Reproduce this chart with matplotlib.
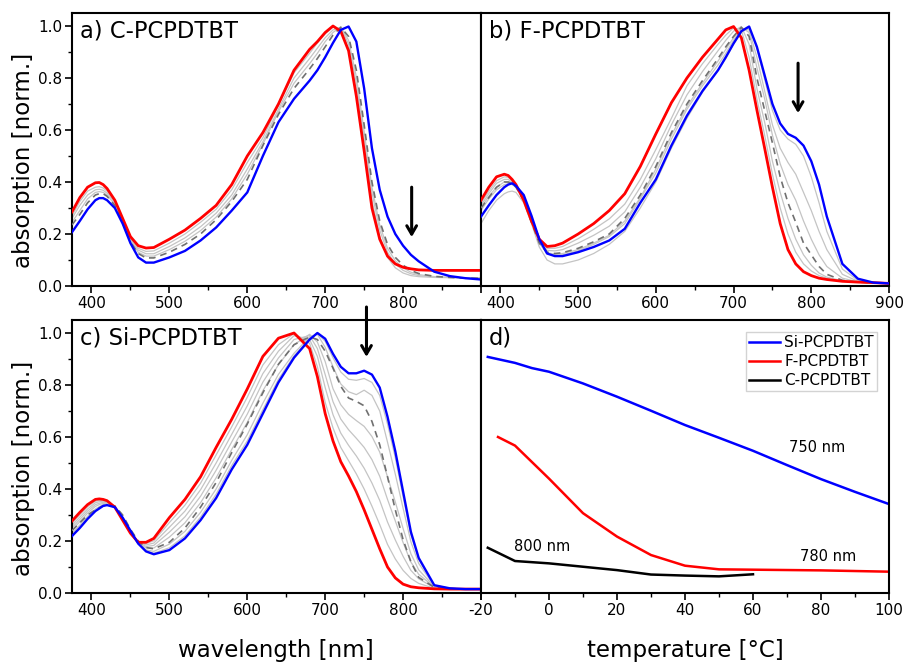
import matplotlib
matplotlib.use("Agg")
import matplotlib.pyplot as plt
from matplotlib.ticker import MultipleLocator

plt.rcParams['font.family'] = ['DejaVu Sans']
plt.rcParams['axes.unicode_minus'] = False

# ---------------- data ----------------
wl = [375, 385, 395, 405, 410, 415, 420, 430, 440, 450, 460, 470, 480, 500, 520, 540, 560,
      580, 600, 620, 640, 660, 680, 690, 700, 710, 720, 730, 740, 750, 760, 770, 780, 790,
      800, 810, 820, 840, 860, 880, 900]

# a) C-PCPDTBT
a_red = [0.285, 0.34, 0.38, 0.397, 0.398, 0.39, 0.375, 0.33, 0.26, 0.19, 0.155, 0.146, 0.148,
         0.18, 0.215, 0.26, 0.31, 0.39, 0.50, 0.59, 0.70, 0.83, 0.91, 0.94, 0.975, 1.0, 0.98,
         0.905, 0.73, 0.52, 0.30, 0.18, 0.115, 0.085, 0.072, 0.066, 0.062, 0.06, 0.06, 0.06, 0.06]
a_blue = [0.207, 0.25, 0.295, 0.33, 0.338, 0.338, 0.33, 0.30, 0.24, 0.165, 0.11, 0.09, 0.09,
          0.11, 0.135, 0.175, 0.225, 0.29, 0.36, 0.50, 0.63, 0.72, 0.79, 0.83, 0.88, 0.935, 0.985,
          0.998, 0.94, 0.76, 0.53, 0.37, 0.267, 0.20, 0.155, 0.12, 0.095, 0.055, 0.038, 0.03, 0.025]
a_dash = [0.235, 0.275, 0.32, 0.35, 0.355, 0.355, 0.345, 0.31, 0.245, 0.17, 0.125, 0.108, 0.108,
          0.13, 0.16, 0.20, 0.255, 0.325, 0.41, 0.54, 0.66, 0.76, 0.835, 0.875, 0.92, 0.965, 0.995,
          0.96, 0.83, 0.62, 0.40, 0.25, 0.16, 0.11, 0.08, 0.06, 0.048, 0.037, 0.033, 0.03, 0.03]
a_grey1 = [0.27, 0.325, 0.365, 0.38, 0.382, 0.377, 0.365, 0.325, 0.255, 0.185, 0.145, 0.133, 0.135,
           0.165, 0.20, 0.245, 0.295, 0.37, 0.475, 0.57, 0.695, 0.82, 0.895, 0.935, 0.97, 0.995, 0.99,
           0.91, 0.75, 0.54, 0.33, 0.19, 0.11, 0.07, 0.05, 0.04, 0.036, 0.033, 0.032, 0.032, 0.032]
a_grey2 = [0.26, 0.31, 0.35, 0.37, 0.372, 0.368, 0.357, 0.32, 0.25, 0.18, 0.138, 0.124, 0.124,
           0.152, 0.185, 0.228, 0.28, 0.35, 0.45, 0.555, 0.68, 0.80, 0.875, 0.915, 0.955, 0.985, 0.995,
           0.93, 0.78, 0.57, 0.36, 0.215, 0.13, 0.085, 0.06, 0.047, 0.04, 0.035, 0.033, 0.032, 0.032]
a_grey3 = [0.245, 0.29, 0.335, 0.36, 0.363, 0.36, 0.35, 0.313, 0.247, 0.175, 0.13, 0.115, 0.115,
           0.14, 0.172, 0.213, 0.265, 0.335, 0.43, 0.545, 0.67, 0.78, 0.855, 0.895, 0.94, 0.975, 0.997,
           0.945, 0.805, 0.595, 0.38, 0.235, 0.145, 0.097, 0.07, 0.053, 0.044, 0.036, 0.033, 0.032, 0.032]

# b) F-PCPDTBT
b_red = [0.33, 0.38, 0.42, 0.43, 0.425, 0.41, 0.39, 0.33, 0.25, 0.18, 0.152, 0.155, 0.165,
         0.20, 0.24, 0.29, 0.355, 0.46, 0.585, 0.705, 0.80, 0.88, 0.95, 0.985, 0.998, 0.955, 0.83,
         0.677, 0.53, 0.38, 0.24, 0.14, 0.085, 0.055, 0.04, 0.03, 0.025, 0.018, 0.015, 0.013, 0.01]
b_blue = [0.267, 0.31, 0.35, 0.38, 0.39, 0.395, 0.385, 0.35, 0.27, 0.18, 0.125, 0.115, 0.115,
          0.13, 0.15, 0.175, 0.22, 0.32, 0.41, 0.54, 0.655, 0.75, 0.83, 0.88, 0.933, 0.98, 0.998,
          0.92, 0.81, 0.70, 0.625, 0.585, 0.57, 0.54, 0.48, 0.39, 0.267, 0.085, 0.028, 0.013, 0.01]
b_dash = [0.30, 0.34, 0.38, 0.40, 0.40, 0.395, 0.38, 0.33, 0.245, 0.165, 0.13, 0.125, 0.128,
          0.145, 0.17, 0.20, 0.26, 0.35, 0.46, 0.59, 0.70, 0.79, 0.875, 0.92, 0.96, 0.995, 0.96,
          0.80, 0.675, 0.55, 0.42, 0.32, 0.245, 0.165, 0.12, 0.075, 0.045, 0.022, 0.015, 0.012, 0.01]
b_grey1 = [0.24, 0.29, 0.33, 0.355, 0.362, 0.365, 0.36, 0.32, 0.24, 0.15, 0.10, 0.085, 0.085,
           0.10, 0.125, 0.16, 0.21, 0.30, 0.40, 0.53, 0.645, 0.745, 0.83, 0.875, 0.93, 0.975, 0.995,
           0.915, 0.795, 0.675, 0.60, 0.565, 0.545, 0.50, 0.42, 0.32, 0.21, 0.065, 0.022, 0.012, 0.01]
b_grey2 = [0.29, 0.335, 0.37, 0.39, 0.393, 0.39, 0.38, 0.33, 0.245, 0.165, 0.125, 0.118, 0.12,
           0.135, 0.16, 0.19, 0.24, 0.335, 0.435, 0.565, 0.68, 0.77, 0.85, 0.895, 0.945, 0.99, 0.985,
           0.88, 0.75, 0.62, 0.53, 0.475, 0.43, 0.36, 0.29, 0.21, 0.14, 0.045, 0.018, 0.012, 0.01]
b_grey3 = [0.30, 0.345, 0.38, 0.40, 0.40, 0.395, 0.382, 0.33, 0.245, 0.165, 0.128, 0.122, 0.125,
           0.14, 0.165, 0.195, 0.25, 0.34, 0.45, 0.58, 0.69, 0.78, 0.865, 0.91, 0.955, 0.995, 0.975,
           0.84, 0.72, 0.58, 0.47, 0.39, 0.33, 0.25, 0.18, 0.12, 0.075, 0.03, 0.016, 0.012, 0.01]
b_grey4 = [0.31, 0.355, 0.395, 0.41, 0.41, 0.40, 0.385, 0.33, 0.248, 0.17, 0.137, 0.135, 0.14,
           0.165, 0.195, 0.23, 0.285, 0.38, 0.49, 0.62, 0.735, 0.825, 0.905, 0.945, 0.98, 0.998, 0.93,
           0.76, 0.63, 0.48, 0.36, 0.26, 0.18, 0.12, 0.08, 0.05, 0.034, 0.02, 0.015, 0.012, 0.01]
b_grey5 = [0.32, 0.365, 0.405, 0.42, 0.418, 0.405, 0.388, 0.33, 0.25, 0.175, 0.145, 0.145, 0.152,
           0.182, 0.218, 0.258, 0.315, 0.41, 0.525, 0.645, 0.77, 0.855, 0.93, 0.965, 0.993, 0.985, 0.88,
           0.72, 0.58, 0.43, 0.30, 0.20, 0.13, 0.085, 0.058, 0.04, 0.03, 0.019, 0.015, 0.012, 0.01]

# c) Si-PCPDTBT
c_red = [0.277, 0.31, 0.34, 0.36, 0.362, 0.36, 0.355, 0.33, 0.28, 0.23, 0.195, 0.195, 0.21,
         0.29, 0.36, 0.447, 0.56, 0.668, 0.785, 0.91, 0.98, 1.0, 0.94, 0.832, 0.69, 0.585, 0.505,
         0.45, 0.39, 0.32, 0.245, 0.17, 0.10, 0.058, 0.034, 0.024, 0.02, 0.016, 0.015, 0.015, 0.015]
c_blue = [0.219, 0.25, 0.285, 0.315, 0.325, 0.335, 0.338, 0.33, 0.29, 0.24, 0.19, 0.16, 0.149,
          0.165, 0.21, 0.28, 0.365, 0.475, 0.57, 0.69, 0.81, 0.905, 0.975, 1.0, 0.978, 0.92, 0.87,
          0.845, 0.845, 0.855, 0.84, 0.79, 0.678, 0.545, 0.39, 0.235, 0.135, 0.03, 0.018, 0.015, 0.015]
c_dash = [0.24, 0.27, 0.30, 0.32, 0.328, 0.335, 0.34, 0.335, 0.30, 0.245, 0.20, 0.175, 0.17,
          0.195, 0.25, 0.33, 0.425, 0.54, 0.65, 0.77, 0.88, 0.955, 0.985, 0.975, 0.93, 0.865, 0.795,
          0.75, 0.737, 0.72, 0.66, 0.57, 0.447, 0.32, 0.205, 0.12, 0.06, 0.022, 0.017, 0.015, 0.015]
c_grey1 = [0.268, 0.301, 0.332, 0.353, 0.356, 0.356, 0.352, 0.33, 0.282, 0.232, 0.194, 0.19, 0.201,
           0.271, 0.338, 0.422, 0.531, 0.639, 0.753, 0.877, 0.955, 0.998, 0.96, 0.87, 0.733, 0.635, 0.56,
           0.509, 0.458, 0.40, 0.334, 0.263, 0.187, 0.131, 0.087, 0.056, 0.037, 0.018, 0.015, 0.015, 0.015]
c_grey2 = [0.26, 0.292, 0.323, 0.347, 0.351, 0.353, 0.35, 0.33, 0.283, 0.233, 0.193, 0.185, 0.192,
           0.253, 0.315, 0.397, 0.50, 0.61, 0.72, 0.844, 0.93, 0.99, 0.975, 0.91, 0.79, 0.686, 0.615,
           0.568, 0.527, 0.48, 0.423, 0.356, 0.273, 0.204, 0.141, 0.087, 0.055, 0.02, 0.016, 0.015, 0.015]
c_grey3 = [0.251, 0.283, 0.315, 0.34, 0.345, 0.349, 0.347, 0.33, 0.285, 0.235, 0.193, 0.179, 0.183,
           0.234, 0.293, 0.372, 0.472, 0.581, 0.688, 0.811, 0.904, 0.975, 0.99, 0.94, 0.84, 0.736, 0.669,
           0.628, 0.595, 0.56, 0.513, 0.449, 0.36, 0.277, 0.194, 0.119, 0.072, 0.023, 0.016, 0.015, 0.015]
c_grey4 = [0.242, 0.274, 0.307, 0.333, 0.34, 0.345, 0.345, 0.33, 0.286, 0.236, 0.192, 0.174, 0.173,
           0.215, 0.27, 0.347, 0.443, 0.552, 0.656, 0.778, 0.878, 0.955, 0.995, 0.965, 0.89, 0.786, 0.724,
           0.687, 0.663, 0.641, 0.602, 0.542, 0.447, 0.35, 0.248, 0.151, 0.089, 0.025, 0.017, 0.015, 0.015]
c_grey5 = [0.229, 0.261, 0.295, 0.323, 0.332, 0.34, 0.341, 0.33, 0.288, 0.238, 0.191, 0.166, 0.16,
           0.188, 0.237, 0.31, 0.40, 0.51, 0.609, 0.73, 0.841, 0.922, 0.985, 0.995, 0.945, 0.87, 0.804,
           0.774, 0.763, 0.78, 0.76, 0.70, 0.58, 0.457, 0.326, 0.197, 0.114, 0.027, 0.018, 0.015, 0.015]
c_grey6 = [0.223, 0.254, 0.289, 0.318, 0.328, 0.337, 0.339, 0.33, 0.289, 0.239, 0.19, 0.162, 0.153,
           0.174, 0.22, 0.292, 0.38, 0.49, 0.585, 0.705, 0.822, 0.912, 0.978, 0.998, 0.968, 0.905, 0.85,
           0.822, 0.818, 0.825, 0.81, 0.76, 0.65, 0.52, 0.37, 0.225, 0.13, 0.03, 0.018, 0.015, 0.015]

# d) temperature dependence
t_si = [-18, -10, -5, 0, 10, 20, 30, 40, 50, 60, 70, 80, 90, 100]
v_si = [0.908, 0.885, 0.865, 0.851, 0.806, 0.755, 0.701, 0.646, 0.597, 0.547, 0.492, 0.438, 0.389, 0.342]
t_f = [-15, -10, 0, 10, 20, 30, 40, 50, 80, 100]
v_f = [0.60, 0.567, 0.44, 0.307, 0.217, 0.146, 0.105, 0.091, 0.087, 0.082]
t_c = [-18, -10, 0, 10, 20, 30, 40, 50, 60]
v_c = [0.174, 0.123, 0.114, 0.101, 0.088, 0.071, 0.067, 0.064, 0.072]

panel_titles = ["a) C-PCPDTBT", "b) F-PCPDTBT", "c) Si-PCPDTBT", "d)"]
legend_labels = ["Si-PCPDTBT", "F-PCPDTBT", "C-PCPDTBT"]
wl_ticks = [400, 500, 600, 700, 800, 900]
y_ticks = [0.0, 0.2, 0.4, 0.6, 0.8, 1.0]
t_ticks = [-20, 0, 20, 40, 60, 80, 100]
arrows = {"a": (811, 0.38, 0.188), "b": (783, 0.857, 0.665), "c": (753, 1.10, 0.908)}

# ---------------- figure ----------------
fig = plt.figure(figsize=(9.07, 6.64), dpi=100)
W, H = 907, 664
def box(l, t, r, b):
    return [l / W, 1 - b / H, (r - l) / W, (b - t) / H]

ax_a = fig.add_axes(box(72, 13, 481, 286))
ax_b = fig.add_axes(box(481, 13, 889, 286))
ax_c = fig.add_axes(box(72, 320, 481, 593))
ax_d = fig.add_axes(box(481, 320, 889, 593))

RED = '#ff0000'
BLUE = '#0000ff'
GREY = '#c4c4c4'
DGREY = '#707070'

def spectra(ax, greys, dash, red, blue):
    for g in greys:
        ax.plot(wl, g, color=GREY, lw=0.9, zorder=2)
    ax.plot(wl, dash, color=DGREY, lw=1.2, ls=(0, (4, 3)), zorder=3)
    ax.plot(wl, red, color=RED, lw=2.0, zorder=4)
    ax.plot(wl, blue, color=BLUE, lw=1.7, zorder=5)

spectra(ax_a, [a_grey1, a_grey2, a_grey3], a_dash, a_red, a_blue)
spectra(ax_b, [b_grey1, b_grey2, b_grey3, b_grey4, b_grey5], b_dash, b_red, b_blue)
spectra(ax_c, [c_grey1, c_grey2, c_grey3, c_grey4, c_grey5, c_grey6], c_dash, c_red, c_blue)

for ax in (ax_a, ax_b, ax_c, ax_d):
    for s in ax.spines.values():
        s.set_linewidth(1.5)
    ax.tick_params(which='major', direction='out', length=5, width=1.2, labelsize=11, pad=2)
    ax.tick_params(which='minor', direction='out', length=3, width=1.0)
    ax.set_ylim(0, 1.05)

for ax in (ax_a, ax_b, ax_c):
    ax.set_xlim(375, 900)
    ax.set_xticks(wl_ticks)
    ax.xaxis.set_minor_locator(MultipleLocator(50))

for ax in (ax_a, ax_c):
    ax.set_xticklabels([str(t) for t in wl_ticks[:-1]] + [''])
    ax.set_yticks(y_ticks)
    ax.set_yticklabels(['%.1f' % v for v in y_ticks])
    ax.yaxis.set_minor_locator(MultipleLocator(0.1))

for ax in (ax_b, ax_d):
    ax.set_yticks([])

# panel d
ax_d.plot(t_si, v_si, color=BLUE, lw=1.8, label=legend_labels[0])
ax_d.plot(t_f, v_f, color=RED, lw=1.8, label=legend_labels[1])
ax_d.plot(t_c, v_c, color='black', lw=1.8, label=legend_labels[2])
ax_d.set_xlim(-20, 100)
ax_d.set_xticks(t_ticks)
ax_d.xaxis.set_minor_locator(MultipleLocator(10))
leg = ax_d.legend(loc='upper right', fontsize=11, frameon=True, fancybox=False,
                  edgecolor='#c8c8c8', handlelength=2.0, handletextpad=0.3,
                  borderpad=0.2, labelspacing=0.25, borderaxespad=0.8)
leg.get_frame().set_linewidth(1.0)
ax_d.text(79, 0.558, "750 nm", fontsize=10.5, ha='center', va='center')
ax_d.text(82, 0.142, "780 nm", fontsize=10.5, ha='center', va='center')
ax_d.text(-2, 0.177, "800 nm", fontsize=10.5, ha='center', va='center')

# panel titles
for ax, title in zip((ax_a, ax_b, ax_c, ax_d), panel_titles):
    ax.text(0.02, 0.935, title, transform=ax.transAxes, fontsize=16.3, ha='left', va='center')

# arrows
for ax, key in ((ax_a, "a"), (ax_b, "b"), (ax_c, "c")):
    x, y0, y1 = arrows[key]
    ax.annotate("", xy=(x, y1), xytext=(x, y0), annotation_clip=False,
                arrowprops=dict(arrowstyle='->,head_width=0.35,head_length=0.6',
                                lw=2.2, color='black', shrinkA=0, shrinkB=0))

# axis labels
fig.text(24 / W, 1 - 160 / H, "absorption [norm.]", rotation=90, fontsize=16.5,
         ha='center', va='center')
fig.text(24 / W, 1 - 468 / H, "absorption [norm.]", rotation=90, fontsize=16.5,
         ha='center', va='center')
fig.text(276 / W, 1 - 650 / H, "wavelength [nm]", fontsize=16.5, ha='center', va='center')
fig.text(685 / W, 1 - 650 / H, "temperature [°C]", fontsize=16.5, ha='center', va='center')

fig.savefig("out.png", dpi=100)
